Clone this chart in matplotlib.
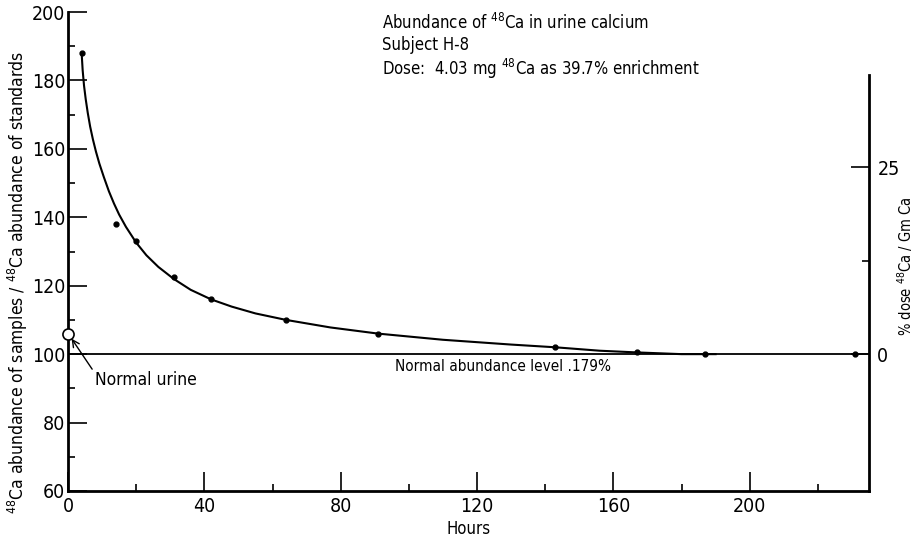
import numpy as np
import matplotlib
matplotlib.use("Agg")
import matplotlib.pyplot as plt
from matplotlib.ticker import MultipleLocator, FixedLocator

plt.rcParams["font.family"] = ["DejaVu Sans"]
plt.rcParams["font.stretch"] = "condensed"
plt.rcParams["mathtext.default"] = "regular"

# measured urine samples
sample_hours = [4, 14, 20, 31, 42, 64, 91, 143, 167, 187, 231]
sample_vals = [188, 138, 133, 122.5, 116, 110, 106, 102, 100.5, 100, 100]

# hand-drawn smooth curve
curve_hours = [4, 4.3, 4.7, 5.2, 5.8, 6.5, 7.3, 8.2, 9.2, 10.5, 12, 13.5, 15,
               17, 20, 23, 26.5, 31, 36, 42, 48, 55, 64, 77, 91, 110, 130,
               143, 156, 167, 180, 190]
curve_vals = [188, 183, 178.5, 174.5, 170.5, 166.5, 162.8, 159.2, 155.7, 151.8,
              147.6, 144, 140.8, 137.2, 132.6, 128.9, 125.5, 122, 118.8, 116,
              113.9, 111.9, 110, 107.8, 106, 104.2, 102.8, 102, 101, 100.5,
              100, 100]

normal_urine_hours = [0]
normal_urine_vals = [106]
normal_level = 100

fig = plt.figure(figsize=(9.22, 5.41), dpi=100)
ax = fig.add_axes([68 / 922, 1 - 491 / 541, (869 - 68) / 922, (491 - 12) / 541])

ax.plot(curve_hours, curve_vals, color="black", linewidth=1.5)
ax.plot(sample_hours, sample_vals, "o", color="black", markersize=3.5)
ax.axhline(normal_level, color="black", linewidth=1.3)
ax.plot(normal_urine_hours, normal_urine_vals, "o", markerfacecolor="white",
        markeredgecolor="black", markersize=8, markeredgewidth=1.2,
        clip_on=False, zorder=5)

ax.set_xlim(0, 235)
ax.set_ylim(60, 200)

for side in ["top", "right"]:
    ax.spines[side].set_visible(False)
for side in ["left", "bottom"]:
    ax.spines[side].set_linewidth(2.0)

ax.xaxis.set_major_locator(FixedLocator([0, 40, 80, 120, 160, 200]))
ax.xaxis.set_minor_locator(FixedLocator([20, 60, 100, 140, 180, 220]))
ax.yaxis.set_major_locator(MultipleLocator(20))
ax.yaxis.set_minor_locator(MultipleLocator(10))
ax.tick_params(axis="both", which="major", direction="in", length=14,
               width=1.2, labelsize=14)
ax.tick_params(axis="x", which="major", pad=4)
ax.tick_params(axis="y", which="major", pad=2)
ax.tick_params(axis="both", which="minor", direction="in", length=5, width=1.2)

# right-hand scale
ax2 = ax.twinx()
ax2.set_ylim(-18.29, 45.72)
for side in ["top", "left", "bottom"]:
    ax2.spines[side].set_visible(False)
ax2.spines["right"].set_linewidth(2.0)
ax2.spines["right"].set_bounds(-18.29, 37.3)
ax2.yaxis.set_major_locator(FixedLocator([0, 25]))
ax2.yaxis.set_minor_locator(FixedLocator([12.5]))
ax2.tick_params(axis="y", which="major", direction="in", length=13, width=1.2,
                labelsize=14, pad=6)
ax2.tick_params(axis="y", which="minor", direction="in", length=5, width=1.2)

# labels
fig.text(18 / 922, 1 - 282 / 541,
         r"$^{48}$Ca abundance of samples / $^{48}$Ca abundance of standards",
         rotation=90, ha="center", va="center", fontsize=12.5)
fig.text(905 / 922, 1 - 266 / 541, r"% dose $^{48}$Ca / Gm Ca",
         rotation=90, ha="center", va="center", fontsize=10.5)
ax.set_xlabel("Hours", fontsize=12, labelpad=3)

ax.text(92, 199.8,
        "Abundance of $^{48}$Ca in urine calcium\nSubject H-8\n"
        "Dose:  4.03 mg $^{48}$Ca as 39.7% enrichment",
        ha="left", va="top", fontsize=12, linespacing=1.2)
ax.text(96, 98.6, "Normal abundance level .179%", ha="left", va="top",
        fontsize=11)
ax.annotate("Normal urine", xy=(0.6, 105.2), xytext=(7.9, 92.3),
            ha="left", va="center", fontsize=12.5,
            arrowprops=dict(arrowstyle="->", color="black", linewidth=1.0,
                            shrinkA=0, shrinkB=2, relpos=(0, 0.9)))

fig.savefig("out.png", dpi=100)
